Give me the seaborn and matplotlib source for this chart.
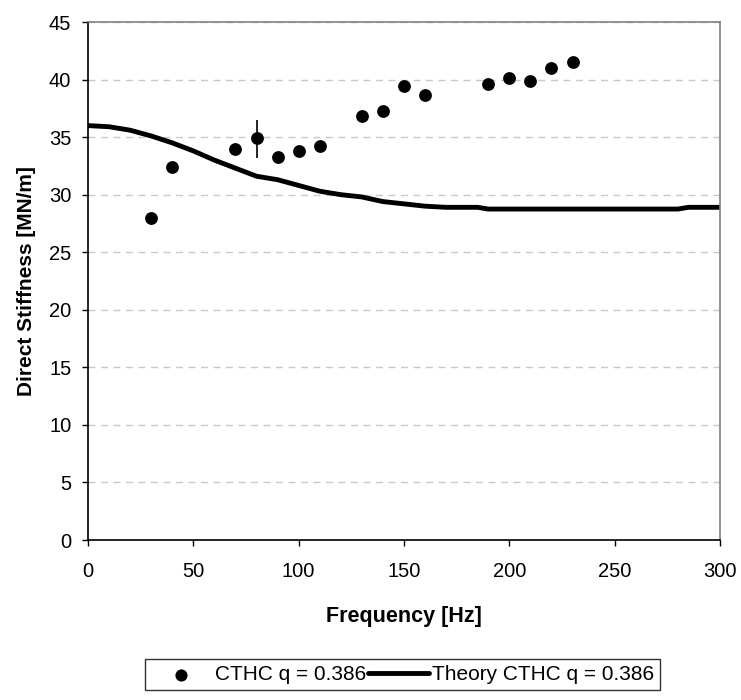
import matplotlib
matplotlib.use("Agg")
import matplotlib.pyplot as plt
import seaborn as sns
import pandas as pd
import numpy as np

sns.set_style("white")
plt.rcParams['font.family'] = ['Liberation Sans', 'DejaVu Sans']
plt.rcParams['text.color'] = 'black'
plt.rcParams['axes.labelcolor'] = 'black'
plt.rcParams['xtick.color'] = 'black'
plt.rcParams['ytick.color'] = 'black'

# Measured data
freq_meas = [30, 40, 70, 80, 90, 100, 110, 130, 140, 150, 160, 190, 200, 210, 220, 230]
stiff_meas = [28.0, 32.4, 34.0, 34.9, 33.3, 33.8, 34.2, 36.8, 37.3, 39.4, 38.7, 39.6, 40.1, 39.9, 41.0, 41.5]
err_low = [0.6, 0.2, 0.2, 1.7, 0.2, 0.2, 0.2, 0.2, 0.2, 0.2, 0.2, 0.2, 0.2, 0.2, 0.2, 0.2]
err_high = [0.2, 0.2, 0.2, 1.6, 0.2, 0.2, 0.2, 0.2, 0.2, 0.2, 0.2, 0.2, 0.2, 0.2, 0.2, 0.2]

# Theory curve
freq_theory = [0, 10, 20, 30, 40, 50, 60, 70, 80, 90, 100, 110, 120, 130, 140, 150, 160,
               170, 180, 185, 190, 200, 220, 240, 260, 280, 285, 290, 300]
stiff_theory = [36.0, 35.9, 35.6, 35.1, 34.5, 33.8, 33.0, 32.3, 31.6, 31.3, 30.8, 30.3, 30.0,
                29.8, 29.4, 29.2, 29.0, 28.9, 28.9, 28.9, 28.75, 28.75, 28.75, 28.75, 28.75,
                28.75, 28.9, 28.9, 28.9]

label_meas = "CTHC q = 0.386"
label_theory = "Theory CTHC q = 0.386"

df_m = pd.DataFrame({"f": freq_meas, "k": stiff_meas})
df_t = pd.DataFrame({"f": freq_theory, "k": stiff_theory})

fig = plt.figure(figsize=(7.41, 7.0), dpi=100)
ax = fig.add_axes([88/741, 160/700, 632/741, 518/700])

ax.errorbar(freq_meas, stiff_meas, yerr=[err_low, err_high], fmt='none',
            ecolor='black', elinewidth=1.2, capsize=0, zorder=3)
sns.scatterplot(data=df_m, x="f", y="k", ax=ax, color='black', s=85,
                marker='o', edgecolor='black', linewidth=0, label=label_meas, zorder=4)
sns.lineplot(data=df_t, x="f", y="k", ax=ax, color='black', linewidth=3.5,
             label=label_theory, zorder=2, sort=False)

ax.set_xlim(0, 300)
ax.set_ylim(0, 45)
ax.set_xticks(range(0, 301, 50))
ax.set_yticks(range(0, 46, 5))
ax.yaxis.grid(True, linestyle=(0, (5, 4)), color='#c8c8c8', linewidth=1)
ax.xaxis.grid(False)
ax.set_axisbelow(True)

for s in ['left', 'bottom']:
    ax.spines[s].set_color('black')
    ax.spines[s].set_linewidth(1.2)
for s in ['top', 'right']:
    ax.spines[s].set_color('#808080')
    ax.spines[s].set_linewidth(1.2)

ax.tick_params(axis='both', direction='out', length=4, width=1, color='black',
               labelsize=14.5, bottom=True, left=True)
ax.tick_params(axis='y', pad=8)
ax.tick_params(axis='x', pad=12)

ax.set_xlabel("Frequency [Hz]", fontsize=15.5, fontweight='bold', labelpad=18)
ax.set_ylabel("Direct Stiffness [MN/m]", fontsize=15, fontweight='bold', labelpad=9)

leg = ax.legend(loc='upper center', bbox_to_anchor=(0.4976, -0.2297), ncol=2,
                frameon=True, fancybox=False, fontsize=15, handlelength=2.9,
                columnspacing=0.1, handletextpad=0.15, borderpad=0.3,
                borderaxespad=0, markerscale=0.95)
leg.get_frame().set_edgecolor('black')
leg.get_frame().set_linewidth(1)

fig.savefig("out.png", dpi=100)
